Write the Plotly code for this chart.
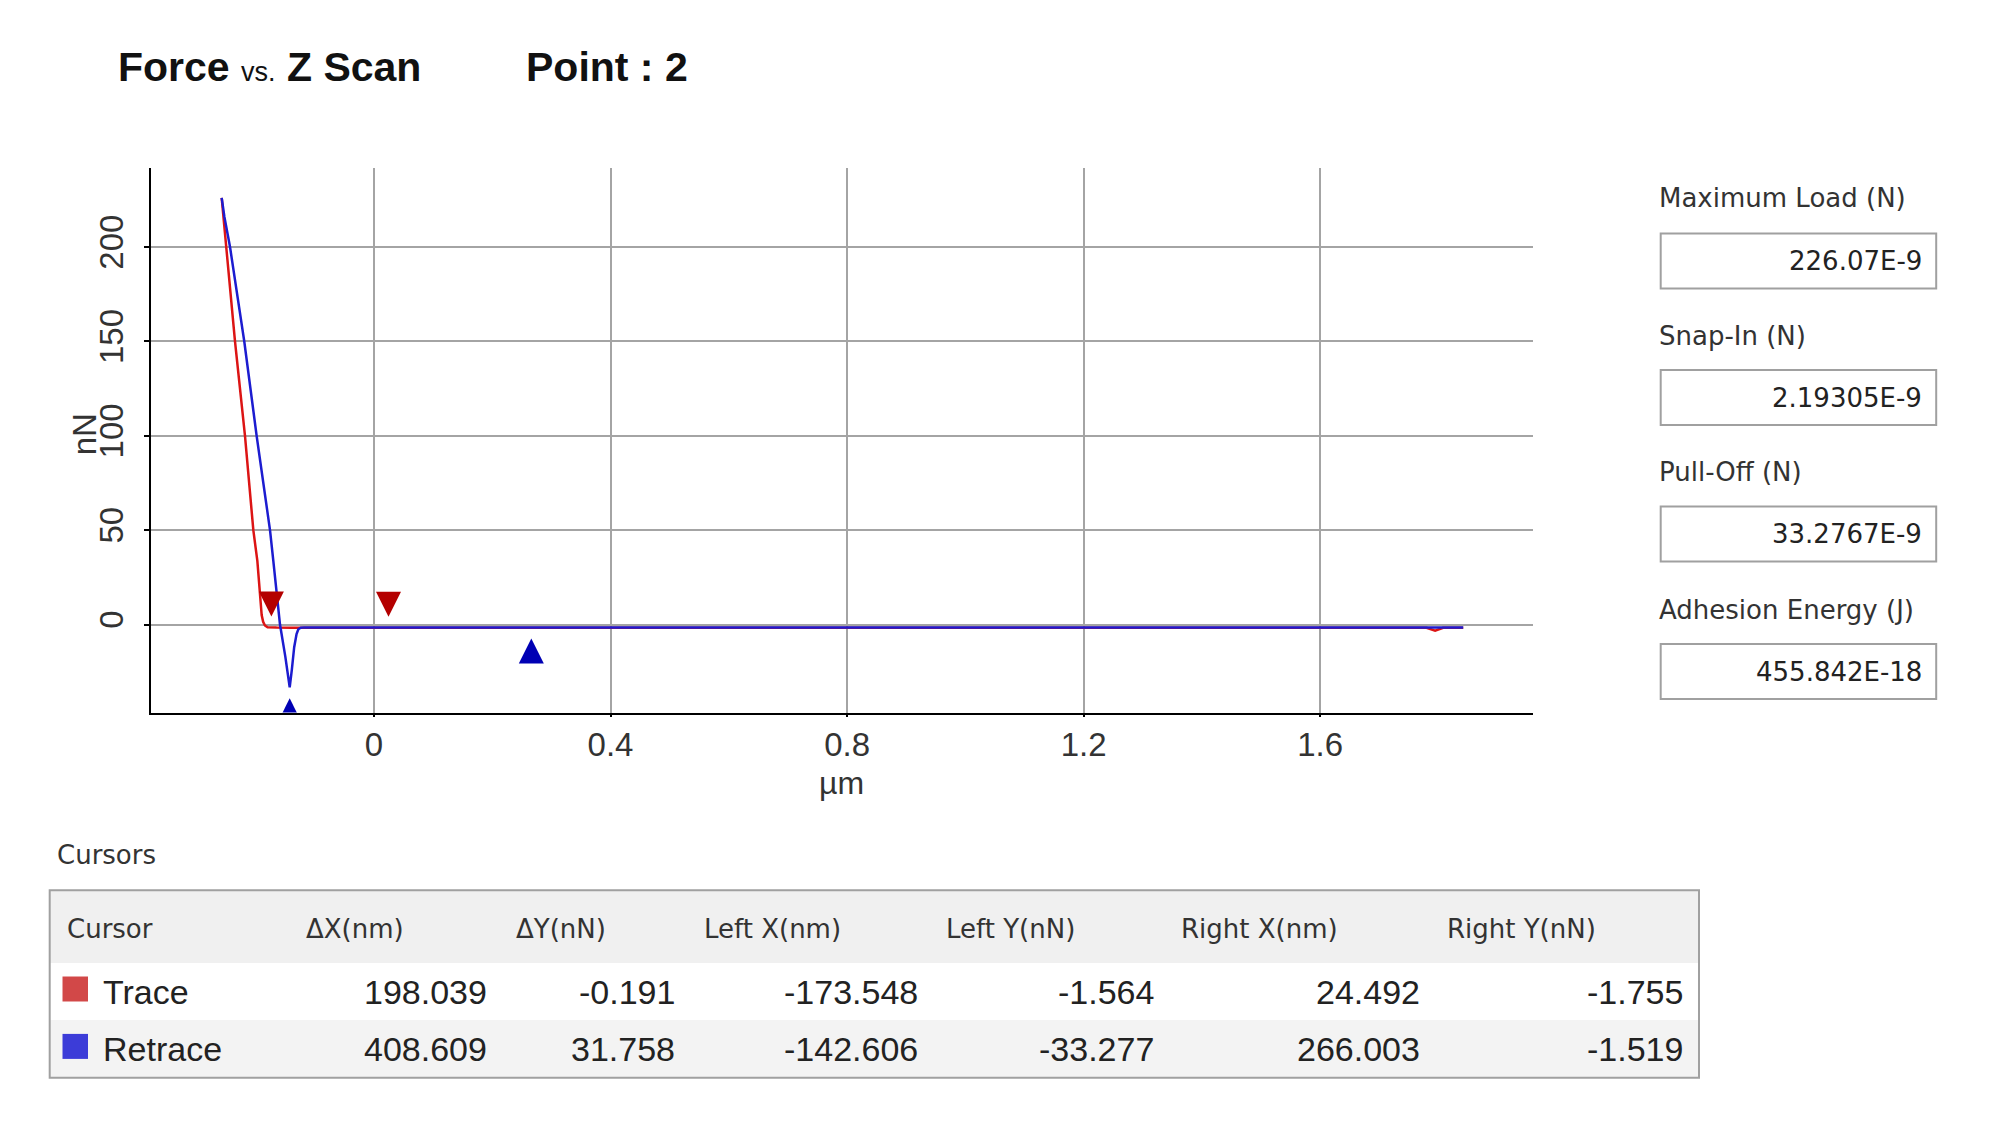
import plotly.graph_objects as go

# ---------------- data ----------------
# Force curves (x in micrometres, y in nN)
trace_x_um = [-0.2576, -0.2503, -0.2351, -0.2182, -0.2041, -0.1973, -0.1930, -0.1900,
              -0.1875, -0.1845, -0.1800, -0.1735, -0.1650, -0.1400, -0.1000, 0.0245,
              0.3000, 0.7000, 1.1000, 1.5000, 1.7800, 1.7945, 1.8080, 1.8420]
trace_y_nN = [226.07, 200.0, 150.0, 100.0, 50.0, 33.7, 14.0, 5.0,
              1.5, -0.5, -1.4, -1.564, -1.60, -1.70, -1.70, -1.755,
              -1.70, -1.65, -1.70, -1.70, -1.70, -3.2, -1.70, -1.70]

retrace_x_um = [-0.2576, -0.2530, -0.2435, -0.2194, -0.1985, -0.1759, -0.1703, -0.1590,
                -0.1500, -0.1426, -0.1390, -0.1350, -0.1310, -0.1280, -0.1240, -0.1180,
                0.0000, 0.2660, 0.8000, 1.4000, 1.8420]
retrace_y_nN = [226.07, 216.0, 200.0, 150.0, 100.0, 50.0, 33.7, 0.0,
                -17.0, -33.277, -24.0, -12.0, -5.0, -2.5, -1.7, -1.5,
                -1.5, -1.519, -1.5, -1.5, -1.5]

x_tick_vals = [0, 0.4, 0.8, 1.2, 1.6]
x_tick_text = ["0", "0.4", "0.8", "1.2", "1.6"]
y_tick_vals = [0, 50, 100, 150, 200]
y_tick_text = ["0", "50", "100", "150", "200"]
x_title = "\u00b5m"
y_title = "nN"

# Cursor table
cursor_names = ["Trace", "Retrace"]
cursor_dx_nm = [198.039, 408.609]
cursor_dy_nN = [-0.191, 31.758]
cursor_left_x_nm = [-173.548, -142.606]
cursor_left_y_nN = [-1.564, -33.277]
cursor_right_x_nm = [24.492, 266.003]
cursor_right_y_nN = [-1.755, -1.519]
table_headers = ["Cursor", "\u0394X(nm)", "\u0394Y(nN)", "Left X(nm)", "Left Y(nN)",
                 "Right X(nm)", "Right Y(nN)"]

# Summary panel
summary_labels = ["Maximum Load (N)", "Snap-In (N)", "Pull-Off (N)", "Adhesion Energy (J)"]
summary_values = ["226.07E-9", "2.19305E-9", "33.2767E-9", "455.842E-18"]

# ---------------- layout constants ----------------
W, H = 2000, 1128
PLOT_L, PLOT_R, PLOT_T, PLOT_B = 150.5, 1533.0, 168.0, 712.5
X_RANGE = [-0.378, 1.960]
Y_RANGE = [-46.6, 241.9]

TRACE_LINE = "#dc1414"
RETRACE_LINE = "#1c1cd0"
TRACE_MARK = "#b40000"
RETRACE_MARK = "#0000b4"
SWATCH_TRACE = "#d24848"
SWATCH_RETRACE = "#3c3cd8"

SANS = "Liberation Sans, Arial, sans-serif"
UI = "DejaVu Sans, Verdana, Tahoma, sans-serif"


def px(x):
    return x / W


def py(y):
    return 1 - y / H


px_per_nN = (PLOT_B - PLOT_T) / (Y_RANGE[1] - Y_RANGE[0])
gap_nN = 11 / px_per_nN

fig = go.Figure()

fig.add_trace(go.Scatter(x=trace_x_um, y=trace_y_nN, mode="lines", name="Trace",
                         line=dict(color=TRACE_LINE, width=2.5)))
fig.add_trace(go.Scatter(x=retrace_x_um, y=retrace_y_nN, mode="lines", name="Retrace",
                         line=dict(color=RETRACE_LINE, width=2.5)))

# cursor markers
fig.add_trace(go.Scatter(
    x=[cursor_left_x_nm[0] / 1000, cursor_right_x_nm[0] / 1000],
    y=[cursor_left_y_nN[0] + gap_nN, cursor_right_y_nN[0] + gap_nN],
    mode="markers", name="Trace cursors",
    marker=dict(symbol="arrow-down", size=25, color=TRACE_MARK, line=dict(width=0))))
fig.add_trace(go.Scatter(
    x=[cursor_left_x_nm[1] / 1000, cursor_right_x_nm[1] / 1000],
    y=[cursor_left_y_nN[1] - gap_nN, cursor_right_y_nN[1] - gap_nN],
    mode="markers", name="Retrace cursors",
    marker=dict(symbol="arrow-up", size=25, color=RETRACE_MARK, line=dict(width=0))))

axis_common = dict(showline=True, linecolor="black", linewidth=2,
                   showgrid=True, gridcolor="#a4a4a4", gridwidth=1.5,
                   zeroline=False, ticks="outside", tickwidth=2,
                   tickcolor="black", mirror=False,
                   tickfont=dict(family=SANS, size=33, color="#333333"))

fig.update_layout(
    width=W, height=H,
    margin=dict(l=0, r=0, t=0, b=0),
    paper_bgcolor="white", plot_bgcolor="white",
    showlegend=False,
    xaxis=dict(domain=[px(PLOT_L), px(PLOT_R)], range=X_RANGE,
               tickvals=x_tick_vals, ticktext=x_tick_text, ticklen=2,
               **axis_common),
    yaxis=dict(domain=[py(PLOT_B), py(PLOT_T)], range=Y_RANGE,
               tickvals=y_tick_vals, ticktext=y_tick_text, tickangle=-90,
               ticklen=5, ticklabelstandoff=7,
               **axis_common),
)

ann = []
shapes = []

# Axis titles
ann.append(dict(x=px((PLOT_L + PLOT_R) / 2), y=py(783), xref="paper", yref="paper",
                xanchor="center", yanchor="middle", showarrow=False, text=x_title,
                borderpad=0, font=dict(family=SANS, size=32, color="#333333")))
ann.append(dict(x=px(84), y=py((PLOT_T + PLOT_B) / 2 - 6), xref="paper", yref="paper",
                xanchor="center", yanchor="middle", showarrow=False, text=y_title,
                borderpad=0, textangle=-90, font=dict(family=SANS, size=33, color="#333333")))

# Title
ann.append(dict(x=px(116), y=py(67), xref="paper", yref="paper", xanchor="left",
                yanchor="middle", showarrow=False,
                text="<b>Force</b> <span style='font-size:27px'>vs.</span> <b>Z Scan</b>",
                font=dict(family=SANS, size=41, color="#111111")))
ann.append(dict(x=px(524), y=py(67), xref="paper", yref="paper", xanchor="left",
                yanchor="middle", showarrow=False, text="<b>Point : 2</b>",
                font=dict(family=SANS, size=41, color="#111111")))

# Summary panel
label_y = [197.7, 335.5, 472.0, 609.7]
box_top = [233.4, 370.0, 506.4, 644.0]
BOX_L, BOX_R, BOX_H = 1660.7, 1936.2, 55.0
for lab, val, ly, bt in zip(summary_labels, summary_values, label_y, box_top):
    ann.append(dict(x=px(1657), y=py(ly), xref="paper", yref="paper", xanchor="left",
                    yanchor="middle", showarrow=False, text=lab,
                    font=dict(family=UI, size=26, color="#333333")))
    shapes.append(dict(type="rect", xref="paper", yref="paper",
                       x0=px(BOX_L), x1=px(BOX_R), y0=py(bt), y1=py(bt + BOX_H),
                       line=dict(color="#a0a0a0", width=2), fillcolor="white", layer="below"))
    ann.append(dict(x=px(1924), y=py(bt + BOX_H / 2), xref="paper", yref="paper",
                    xanchor="right", yanchor="middle", showarrow=False, text=val,
                    font=dict(family=UI, size=26, color="#222222")))

# Cursor table
ann.append(dict(x=px(55), y=py(855), xref="paper", yref="paper", xanchor="left",
                yanchor="middle", showarrow=False, text="Cursors",
                font=dict(family=UI, size=26, color="#333333")))
TABLE_L, TABLE_R = 49.7, 1699.0
row_edges = [890.3, 963.0, 1020.0, 1077.8]
row_fills = ["#f0f0f0", "#ffffff", "#f3f3f3"]
for i, fill in enumerate(row_fills):
    shapes.append(dict(type="rect", xref="paper", yref="paper",
                       x0=px(TABLE_L), x1=px(TABLE_R), y0=py(row_edges[i]), y1=py(row_edges[i + 1]),
                       line=dict(width=0), fillcolor=fill, layer="below"))
shapes.append(dict(type="rect", xref="paper", yref="paper",
                   x0=px(TABLE_L), x1=px(TABLE_R), y0=py(row_edges[0]), y1=py(row_edges[-1]),
                   line=dict(color="#a0a0a0", width=2), fillcolor="rgba(0,0,0,0)", layer="below"))

header_left_x = [65, 303.6, 514, 701.5, 944, 1178.6, 1445]
header_cy = (row_edges[0] + row_edges[1]) / 2 + 2
for hx, htxt in zip(header_left_x, table_headers):
    ann.append(dict(x=px(hx), y=py(header_cy), xref="paper", yref="paper", xanchor="left",
                    yanchor="middle", showarrow=False, text=htxt,
                    font=dict(family=UI, size=26, color="#333333")))

data_right_x = [488.5, 677.3, 919.6, 1155.6, 1422.2, 1685.0]
columns = [cursor_dx_nm, cursor_dy_nN, cursor_left_x_nm, cursor_left_y_nN,
           cursor_right_x_nm, cursor_right_y_nN]
swatches = [SWATCH_TRACE, SWATCH_RETRACE]
for r, name in enumerate(cursor_names):
    cy = (row_edges[r + 1] + row_edges[r + 2]) / 2
    shapes.append(dict(type="rect", xref="paper", yref="paper",
                       x0=px(62.5), x1=px(88), y0=py(cy - 15), y1=py(cy + 10),
                       line=dict(width=0), fillcolor=swatches[r], layer="above"))
    ann.append(dict(x=px(101), y=py(cy), xref="paper", yref="paper", xanchor="left",
                    yanchor="middle", showarrow=False, text=name,
                    font=dict(family=SANS, size=34, color="#222222")))
    for rx, col in zip(data_right_x, columns):
        ann.append(dict(x=px(rx), y=py(cy), xref="paper", yref="paper", xanchor="right",
                        yanchor="middle", showarrow=False, text=f"{col[r]:.3f}",
                        font=dict(family=SANS, size=34, color="#222222")))

fig.update_layout(annotations=ann, shapes=shapes)
fig.write_html("out.html", config={"displayModeBar": False},
               post_script="document.body.style.margin='0';")
